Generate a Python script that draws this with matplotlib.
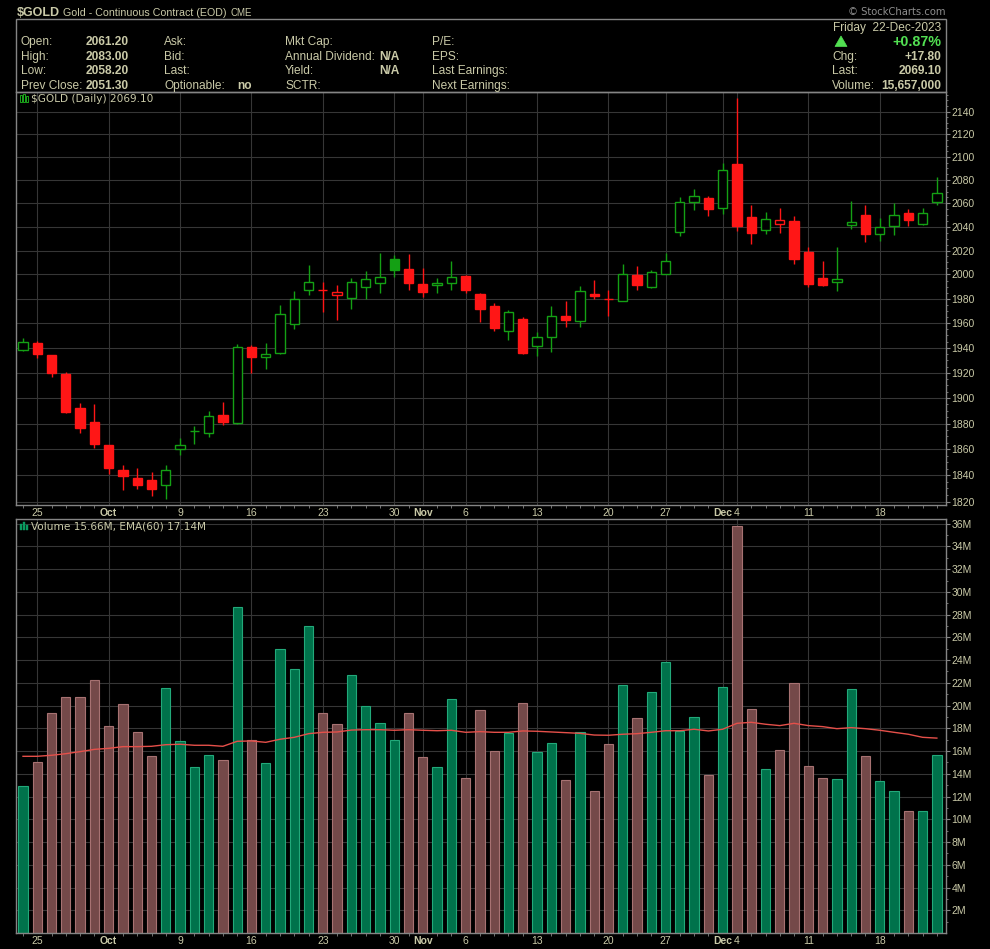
import matplotlib
matplotlib.use('Agg')
import matplotlib.pyplot as plt
from matplotlib.patches import Rectangle, Polygon
from matplotlib.ticker import FixedLocator, FuncFormatter, NullFormatter
import pandas as pd

# ---------------- data ----------------
dates = [d for d in pd.bdate_range('2023-09-22', '2023-12-22') if d != pd.Timestamp('2023-11-23')]

opens = [1938.0, 1943.9, 1934.3, 1919.0, 1892.2, 1881.2, 1863.1, 1844.1, 1838.0, 1836.5,
         1832.9, 1860.0, 1874.0, 1872.4, 1886.7, 1880.2, 1940.5, 1932.5, 1935.6, 1959.2,
         1986.9, 1987.3, 1982.8, 1980.8, 1989.9, 1993.2, 2012.7, 2004.4, 1992.1, 1991.1,
         1992.7, 1998.8, 1983.8, 1974.0, 1953.9, 1963.3, 1941.8, 1948.9, 1965.8, 1961.4,
         1983.9, 1979.8, 1978.3, 1999.3, 1989.9, 2000.7, 2035.9, 2060.8, 2064.5, 2055.7,
         2093.6, 2047.9, 2037.1, 2042.2, 2044.7, 2018.5, 1996.8, 1994.0, 2041.8, 2050.4,
         2034.2, 2040.5, 2051.8, 2042.4, 2061.2]
highs = [1947.7, 1945.5, 1934.5, 1920.6, 1896.1, 1895.4, 1863.5, 1848.0, 1845.9, 1842.6,
         1848.0, 1868.8, 1878.1, 1889.8, 1897.2, 1943.1, 1942.3, 1943.7, 1974.6, 1986.3,
         2007.9, 1993.8, 1991.4, 1997.2, 2003.0, 2017.7, 2016.3, 2017.1, 2005.4, 1997.5,
         2011.3, 1999.9, 1985.1, 1976.2, 1970.5, 1965.0, 1952.5, 1974.0, 1978.1, 1990.6,
         1995.4, 1987.1, 2008.8, 2007.1, 2003.8, 2018.0, 2065.6, 2072.2, 2066.2, 2094.5,
         2152.0, 2058.6, 2052.2, 2056.0, 2049.2, 2023.0, 2011.3, 2023.0, 2061.6, 2058.6,
         2047.2, 2059.9, 2055.0, 2055.9, 2083.0]
lows = [1937.5, 1932.2, 1916.9, 1888.3, 1872.9, 1861.3, 1841.3, 1829.1, 1829.9, 1824.6,
        1822.3, 1855.8, 1864.3, 1869.7, 1878.9, 1880.0, 1919.6, 1923.2, 1934.8, 1955.5,
        1982.7, 1969.3, 1962.7, 1971.7, 1980.0, 1985.1, 1998.2, 1987.1, 1981.6, 1985.1,
        1987.5, 1984.3, 1961.1, 1953.9, 1946.6, 1935.0, 1933.8, 1937.0, 1957.1, 1957.1,
        1980.0, 1965.8, 1978.0, 1987.1, 1989.1, 2000.2, 2031.9, 2054.6, 2049.4, 2051.1,
        2036.7, 2025.8, 2034.2, 2035.0, 2009.0, 1989.6, 1990.7, 1986.7, 2037.8, 2027.5,
        2028.3, 2033.4, 2040.7, 2041.6, 2058.2]
closes = [1944.5, 1935.3, 1920.1, 1889.3, 1876.8, 1864.3, 1845.9, 1839.8, 1832.9, 1829.9,
          1843.9, 1863.1, 1874.5, 1885.7, 1881.5, 1940.5, 1933.0, 1934.9, 1967.2, 1979.5,
          1993.5, 1986.9, 1985.2, 1993.5, 1996.0, 1997.7, 2004.1, 1993.2, 1985.7, 1993.0,
          1997.7, 1987.1, 1971.5, 1956.3, 1969.1, 1935.6, 1949.0, 1965.5, 1962.7, 1986.2,
          1982.6, 1979.5, 2000.2, 1991.3, 2001.9, 2011.0, 2061.1, 2065.9, 2055.1, 2088.4,
          2040.5, 2035.0, 2046.9, 2045.5, 2013.2, 1992.4, 1991.5, 1996.0, 2043.9, 2034.2,
          2039.6, 2050.1, 2045.6, 2051.3, 2069.1]
volumes_m = [12.93, 15.01, 19.32, 20.73, 20.73, 22.22, 18.18, 20.11, 17.65, 15.54,
             21.52, 16.86, 14.57, 15.63, 15.19, 28.65, 16.95, 14.93, 24.95, 23.19,
             26.97, 19.32, 18.35, 22.66, 19.94, 18.44, 16.95, 19.32, 15.45, 14.57,
             20.55, 13.61, 19.59, 15.98, 17.56, 20.20, 15.89, 16.68, 13.43, 17.65,
             12.46, 16.60, 21.79, 18.88, 21.17, 23.81, 17.77, 18.97, 13.87, 21.61,
             35.77, 19.67, 14.40, 16.07, 21.96, 14.66, 13.61, 13.52, 21.43, 15.54,
             13.34, 12.46, 10.70, 10.70, 15.657]
ema60_m = [15.54, 15.54, 15.63, 15.77, 15.95, 16.15, 16.24, 16.39, 16.39, 16.42,
           16.56, 16.60, 16.51, 16.51, 16.42, 16.86, 16.89, 16.77, 17.04, 17.21,
           17.53, 17.65, 17.68, 17.85, 17.88, 17.88, 17.83, 17.88, 17.83, 17.79,
           17.83, 17.65, 17.71, 17.65, 17.65, 17.77, 17.74, 17.68, 17.62, 17.56,
           17.41, 17.39, 17.48, 17.53, 17.65, 17.79, 17.79, 17.92, 17.77, 17.92,
           18.44, 18.53, 18.36, 18.24, 18.44, 18.24, 18.15, 17.97, 18.06, 17.97,
           17.83, 17.65, 17.48, 17.21, 17.14]

price_ticks = list(range(1820, 2141, 20))
volume_ticks = list(range(2, 37, 2))

# ---------------- style ----------------
W, H = 990, 949
BG = '#000000'
TXT = '#cacaa8'
SPINE = '#858585'
GRID = '#363636'
RED = '#ff1616'
GRN = '#14a014'
VGF, VGE = '#00724b', '#22a97a'
VRF, VRE = '#744949', '#a77272'
EMA_C = '#e5504a'
SANS = ['Liberation Sans', 'DejaVu Sans']
WIDE = ['DejaVu Sans']

fig = plt.figure(figsize=(W / 100, H / 100), dpi=100, facecolor=BG)


def px_axes(left, top, right, bottom):
    return fig.add_axes([left / W, 1 - bottom / H, (right - left) / W, (bottom - top) / H])


def ftext(x, y, s, **kw):
    kw.setdefault('va', 'baseline')
    kw.setdefault('color', TXT)
    kw.setdefault('family', SANS)
    fig.text(x / W, 1 - y / H, s, **kw)


n = len(dates)
xs = list(range(n))
up = [True] + [closes[i] >= closes[i - 1] for i in range(1, n)]

# tick positions: month starts and week starts
tick_idx, tick_lab, tick_bold = [], [], []
for i in range(1, n):
    d, p = dates[i], dates[i - 1]
    if d.month != p.month:
        tick_idx.append(i); tick_lab.append(d.strftime('%b')); tick_bold.append(True)
    elif d.weekday() < p.weekday():
        tick_idx.append(i); tick_lab.append(str(d.day)); tick_bold.append(False)

XLIM = (-0.49, 64.64)

ax = px_axes(16, 92, 946, 505)
av = px_axes(16, 519, 946, 933)

for a in (ax, av):
    a.set_facecolor(BG)
    for s in a.spines.values():
        s.set_color(SPINE)
        s.set_linewidth(1.0)
    a.set_xlim(*XLIM)
    a.yaxis.tick_right()
    a.tick_params(axis='y', which='major', colors=SPINE, length=3, width=0.8, pad=1,
                  labelcolor=TXT, labelsize=7.5)
    a.tick_params(axis='y', which='minor', colors=SPINE, length=1.5, width=0.6)
    a.set_xticks(tick_idx)
    a.set_xticklabels(tick_lab)
    a.set_xticks(xs, minor=True)
    a.tick_params(axis='x', which='major', length=0, pad=2.5, labelcolor=TXT, labelsize=7.5)
    a.tick_params(axis='x', which='minor', length=2, width=0.6, colors=SPINE)
    for lab, b in zip(a.get_xticklabels(), tick_bold):
        lab.set_fontweight('bold' if b else 'normal')
        lab.set_family(SANS)
    for lab in a.get_yticklabels():
        lab.set_family(SANS)
    for i in tick_idx:
        a.axvline(i, color=GRID, lw=0.8, zorder=0)

# ---- price panel (log scale) ----
ax.set_yscale('log')
ax.set_ylim(1817.5, 2157.4)
ax.yaxis.set_major_locator(FixedLocator(price_ticks))
ax.yaxis.set_major_formatter(FuncFormatter(lambda v, p: f'{v:.0f}'))
ax.yaxis.set_minor_locator(FixedLocator(list(range(1820, 2156, 5))))
ax.yaxis.set_minor_formatter(NullFormatter())
for lab in ax.get_yticklabels():
    lab.set_family(SANS)
for t in price_ticks:
    ax.axhline(t, color=GRID, lw=0.8, zorder=0)

body_w = 0.65
for i in xs:
    col = GRN if up[i] else RED
    ax.vlines(i, lows[i], highs[i], color=col, lw=1.0, zorder=2)
    lo, hi = min(opens[i], closes[i]), max(opens[i], closes[i])
    hollow = closes[i] > opens[i]
    ax.bar(i, hi - lo, bottom=lo, width=body_w,
           facecolor=BG if hollow else col, edgecolor=col, lw=1.0, zorder=3)

# ---- volume panel ----
av.set_ylim(0, 36.41)
av.yaxis.set_major_locator(FixedLocator(volume_ticks))
av.yaxis.set_major_formatter(FuncFormatter(lambda v, p: f'{v:.0f}M'))
av.yaxis.set_minor_locator(FixedLocator(list(range(1, 37, 2))))
av.yaxis.set_minor_formatter(NullFormatter())
for lab in av.get_yticklabels():
    lab.set_family(SANS)
for t in volume_ticks:
    av.axhline(t, color=GRID, lw=0.8, zorder=0)
av.bar(xs, volumes_m, width=body_w,
       color=[VGF if u else VRF for u in up],
       edgecolor=[VGE if u else VRE for u in up], lw=0.8, zorder=2)
av.plot(xs, ema60_m, color=EMA_C, lw=1.0, zorder=3)

# ---- panel labels ----
ftext(31.5, 102, f'$GOLD (Daily) {closes[-1]:.2f}', family=WIDE, fontsize=7.6)
ftext(31, 529.5, f'Volume {volumes_m[-1]:.2f}M, EMA(60) {ema60_m[-1]:.2f}M', family=WIDE, fontsize=7.6)
# little icons
for (x0, y0, w, h) in [(19.5, 95.5, 2.2, 6), (22.5, 94.5, 2.2, 7), (25.5, 96.5, 2.2, 5)]:
    fig.add_artist(Rectangle((x0 / W, 1 - (y0 + h) / H), w / W, h / H, transform=fig.transFigure,
                             facecolor='none', edgecolor='#20c020', lw=0.6))
for (x0, y0, w, h) in [(19.5, 524, 2.2, 5.5), (22.5, 522, 2.2, 7.5), (25.5, 525, 2.2, 4.5)]:
    fig.add_artist(Rectangle((x0 / W, 1 - (y0 + h) / H), w / W, h / H, transform=fig.transFigure,
                             facecolor='#0a9a60', edgecolor='#0a9a60', lw=0.3))

# ---------------- header ----------------
fig.add_artist(Rectangle((16 / W, 1 - 91.5 / H), 930 / W, 72.5 / H, transform=fig.transFigure,
                         fill=False, edgecolor=SPINE, lw=1.0))
ftext(16.5, 15.8, '$GOLD', fontsize=9, fontweight='bold')
ftext(63.3, 15.5, 'Gold - Continuous Contract (EOD)', fontsize=7.7)
ftext(230.7, 15.5, 'CME', fontsize=7)
ftext(946, 15.3, '\u00a9 StockCharts.com', fontsize=7.2, color='#8e8e8e', ha='right',
      family=['DejaVu Sans'])

rows = [45.3, 59.8, 74.3, 88.7]
FS = 8.6
col1 = [('Open:', '2061.20'), ('High:', '2083.00'), ('Low:', '2058.20'), ('Prev Close:', '2051.30')]
for (lab, val), y in zip(col1, rows):
    ftext(20.7, y, lab, fontsize=FS)
    ftext(86, y, val, fontsize=FS, fontweight='bold')
for lab, y in zip(['Ask:', 'Bid:', 'Last:', 'Optionable:'], rows):
    ftext(164.3, y, lab, fontsize=FS)
ftext(237.7, rows[3], 'no', fontsize=FS, fontweight='bold')
for lab, y in zip(['Mkt Cap:', 'Annual Dividend:', 'Yield:', 'SCTR:'], rows):
    ftext(285, y, lab, fontsize=FS)
ftext(379.3, rows[1], 'N/A', fontsize=FS, fontweight='bold')
ftext(379.3, rows[2], 'N/A', fontsize=FS, fontweight='bold')
for lab, y in zip(['P/E:', 'EPS:', 'Last Earnings:', 'Next Earnings:'], rows):
    ftext(432.3, y, lab, fontsize=FS)

ftext(941.5, 31, 'Friday  22-Dec-2023', fontsize=FS, ha='right')
UPG = '#52e052'
fig.add_artist(Polygon([(835 / W, 1 - 46.5 / H), (847 / W, 1 - 46.5 / H), (841 / W, 1 - 36 / H)],
                       closed=True, transform=fig.transFigure, facecolor=UPG, edgecolor=UPG, lw=0.5))
ftext(941.5, 45.8, '+0.87%', fontsize=10.3, fontweight='bold', color=UPG, ha='right')
for (lab, val), y in zip([('Chg:', '+17.80'), ('Last:', '2069.10'), ('Volume:', '15,657,000')], rows[1:]):
    ftext(832.3, y, lab, fontsize=FS)
    ftext(941.5, y, val, fontsize=FS, fontweight='bold', ha='right')

fig.savefig('out.png', dpi=100, facecolor=BG)
